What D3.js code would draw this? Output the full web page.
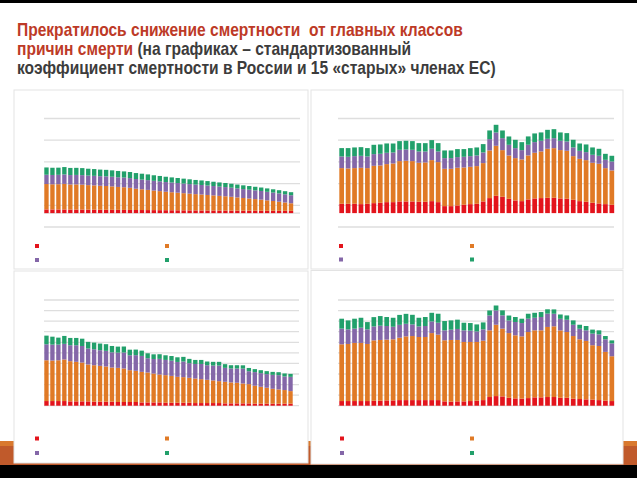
<!DOCTYPE html>
<html><head><meta charset="utf-8">
<script src="https://cdn.jsdelivr.net/npm/d3@7"></script>
<style>body{margin:0;background:#fff}svg{display:block}</style>
</head><body>
<svg id="c" width="637" height="478"></svg>
<script>
// ---- data ----
const causes = ["Внешние причины", "Болезни системы кровообращения", "Новообразования", "Прочие причины"];
const causeColors = ["#e3141c", "#e07a26", "#8467a8", "#22a06b"];

const yearsEU = [1970,1971,1972,1973,1974,1975,1976,1977,1978,1979,1980,1981,1982,1983,1984,1985,1986,1987,1988,1989,1990,1991,1992,1993,1994,1995,1996,1997,1998,1999,2000,2001,2002,2003,2004,2005,2006,2007,2008,2009,2010,2011];
const yearsRU = [1970,1971,1972,1973,1974,1975,1976,1977,1978,1979,1980,1981,1982,1983,1984,1985,1986,1987,1988,1989,1990,1991,1992,1993,1994,1995,1996,1997,1998,1999,2000,2001,2002,2003,2004,2005,2006,2007,2008,2009,2010,2011,2012];

// top row (upper charts), EU-15
const euTopRed    = [85,84,84,83,82,82,81,80,79,78,77,76,75,74,73,72,71,70,69,68,67,66,65,64,63,62,61,60,60,59,58,58,57,56,56,55,55,54,54,53,53,52];
const euTopOrange = [585,580,582,590,578,580,575,565,560,552,548,540,528,522,510,490,478,465,450,438,425,415,405,395,385,375,368,358,348,338,330,318,305,292,280,268,255,240,225,210,192,175];
const euTopPurple = [214,215,216,218,217,218,219,220,220,221,222,222,223,223,224,224,224,225,225,225,224,224,223,222,221,220,219,218,216,214,212,210,208,206,204,202,200,197,194,191,188,185];
const euTopGreen  = [168,166,165,170,164,163,162,158,156,152,150,147,145,142,140,137,135,132,128,125,122,118,116,113,110,107,105,102,99,96,94,91,88,86,84,82,80,78,76,74,72,70];

// top row, Russia
const ruTopRed    = [215,215,215,207,215,230,238,253,253,269,269,269,261,261,276,253,161,161,177,192,207,215,269,346,399,376,330,292,276,315,338,346,353,353,338,330,307,276,261,238,223,207,192];
const ruTopOrange = [822,814,822,837,822,860,860,876,891,929,937,929,899,906,945,922,860,860,868,860,860,868,883,1098,1152,1075,998,975,960,1014,1052,1075,1129,1144,1114,1106,1006,975,960,922,914,829,791];
const ruTopPurple = [269,269,276,276,269,269,269,261,253,261,261,261,261,253,261,246,246,246,246,246,246,246,246,261,307,276,246,230,215,246,246,246,230,230,215,215,200,184,184,184,184,192,207];
const ruTopGreen  = [192,200,200,200,192,215,215,215,207,200,200,200,192,192,200,192,177,177,184,177,184,184,192,200,177,177,192,192,184,192,200,192,207,207,192,192,177,169,177,169,161,138,131];

// bottom row (lower charts), EU-15
const euBotRed    = [44,44,44,44,41,41,41,41,38,38,38,38,35,35,35,35,31,31,31,31,28,28,28,28,28,25,25,25,25,25,22,22,22,22,22,19,19,19,19,19,19,19];
const euBotOrange = [386,383,386,393,380,374,367,349,345,339,333,323,323,317,301,295,289,283,273,264,261,254,245,242,236,232,226,220,214,207,204,198,195,188,182,170,160,151,141,135,129,119];
const euBotPurple = [151,151,148,148,151,157,157,151,151,148,148,144,144,151,141,148,151,135,138,148,144,144,141,148,138,138,144,138,141,148,132,132,135,141,122,129,129,129,132,135,129,135];
const euBotGreen  = [82,75,66,75,69,69,69,63,63,63,63,60,57,57,53,53,50,47,44,44,44,44,44,44,41,38,38,35,35,35,35,31,31,31,31,28,28,28,28,28,28,28];

// bottom row, Russia
const ruBotRed    = [44,44,44,44,44,47,47,50,50,53,53,53,53,53,53,53,41,38,41,41,44,47,53,82,91,88,75,69,66,72,79,79,82,82,75,75,66,63,60,57,53,47,44];
const ruBotOrange = [537,540,550,550,540,571,575,575,578,590,603,606,597,597,634,619,578,584,581,562,559,556,562,631,675,641,612,597,590,625,634,634,663,669,637,622,593,565,553,515,512,462,424];
const ruBotPurple = [148,138,135,144,138,132,135,129,119,122,119,110,100,104,110,113,94,97,104,110,107,100,107,141,135,126,119,126,126,126,119,126,126,119,110,116,107,100,100,110,110,119,122];
const ruBotGreen  = [94,85,94,94,69,88,91,85,85,94,94,91,82,85,82,85,88,88,88,72,72,66,66,47,47,47,47,47,41,47,47,47,41,41,41,41,41,38,41,38,38,31,28];

// gridline values
const gridTop = [-320, 180, 680, 1180, 1680, 2180];
const gridBot = [0,100,200,300,400,500,600,700,800,900,1000];

// ---- drawing ----
const svg = d3.select("#c");

// page frame
svg.append("rect").attr("x",0).attr("y",0).attr("width",637).attr("height",478).attr("fill","#fff");
svg.append("rect").attr("x",0).attr("y",0).attr("width",637).attr("height",3).attr("fill","#000");
svg.append("rect").attr("x",0).attr("y",441).attr("width",637).attr("height",24).attr("fill","#c05a2b");
svg.append("rect").attr("x",0).attr("y",441).attr("width",637).attr("height",5).attr("fill","#d9792e");
svg.append("rect").attr("x",0).attr("y",465).attr("width",637).attr("height",13).attr("fill","#000");

// title
const title = svg.append("g").attr("transform","translate(17,0) scale(0.89,1)")
  .append("text").attr("font-family","'Liberation Sans', Arial, sans-serif")
  .attr("font-weight","bold").attr("font-size",17.5).attr("xml:space","preserve");
const red = "#bd3a27", gray = "#3c3c3c";
title.append("tspan").attr("x",0).attr("y",36).attr("fill",red).text("Прекратилось снижение смертности  от главных классов");
const l2 = title.append("tspan").attr("x",0).attr("y",55);
l2.append("tspan").attr("fill",red).text("причин смерти");
l2.append("tspan").attr("fill",gray).text(" (на графиках – стандартизованный");
title.append("tspan").attr("x",0).attr("y",74).attr("fill",gray).text("коэффициент смертности в России и 15 «старых» членах ЕС)");

const yTop = d3.scaleLinear().domain([-320, 2180]).range([227, 118.5]);
const yBot = d3.scaleLinear().domain([0, 1000]).range([405.7, 300]);

const panels = [
  {x:14, w:294, h:179, years:yearsEU, series:[euTopRed,euTopOrange,euTopPurple,euTopGreen], y:yTop, grid:gridTop, gx:[44,300], bx:[44,293.5], base:true, lx:[37,167], ly:[246,260], py:90},
  {x:311, w:312, h:179, years:yearsRU, series:[ruTopRed,ruTopOrange,ruTopPurple,ruTopGreen], y:yTop, grid:gridTop, gx:[338,614], bx:[339,614.5], base:false, lx:[341,472], ly:[246,259.5], py:90},
  {x:14, w:294, h:192, years:yearsEU, series:[euBotRed,euBotOrange,euBotPurple,euBotGreen], y:yBot, grid:gridBot, gx:[44,299], bx:[44,293], base:false, lx:[37,167], ly:[438.5,453], py:271},
  {x:311, w:312, h:193.5, years:yearsRU, series:[ruBotRed,ruBotOrange,ruBotPurple,ruBotGreen], y:yBot, grid:gridBot, gx:[338,614], bx:[339,614.5], base:false, lx:[342,472], ly:[438.5,453], py:270.5}
];

panels.forEach(p => {
  const g = svg.append("g");
  g.append("rect").attr("x",p.x).attr("y",p.py).attr("width",p.w).attr("height",p.h)
    .attr("fill","#fff").attr("stroke","#e3e3e3").attr("stroke-width",1);
  const y = p.y;
  g.selectAll("line.grid").data(p.grid).join("line").attr("class","grid")
    .attr("x1",p.gx[0]).attr("x2",p.gx[1]).attr("y1",d=>y(d)).attr("y2",d=>y(d))
    .attr("stroke","#dedede").attr("stroke-width",1.3);
  if (p.base) g.append("line").attr("x1",p.gx[0]).attr("x2",p.gx[1]).attr("y1",y(0)).attr("y2",y(0))
    .attr("stroke","#dedede").attr("stroke-width",1.3);
  const rows = p.years.map((yr,i) => {
    const r = {year: yr};
    causes.forEach((c,k) => r[c] = p.series[k][i]);
    return r;
  });
  const stacked = d3.stack().keys(causes)(rows);
  const x = d3.scaleBand().domain(p.years).range(p.bx).paddingInner(0.27).paddingOuter(0.05);
  stacked.forEach((layer,k) => {
    g.append("g").selectAll("rect").data(layer).join("rect")
      .attr("x", d => x(d.data.year)).attr("width", x.bandwidth())
      .attr("y", d => y(d[1])).attr("height", d => y(d[0]) - y(d[1]))
      .attr("fill", causeColors[k]);
  });
  causes.forEach((c,k) => {
    const cx = p.lx[k % 2], cy = p.ly[Math.floor(k/2)];
    g.append("rect").attr("x",cx-2).attr("y",cy-2).attr("width",4).attr("height",4).attr("fill",causeColors[k]);
  });
});
</script>
</body></html>
